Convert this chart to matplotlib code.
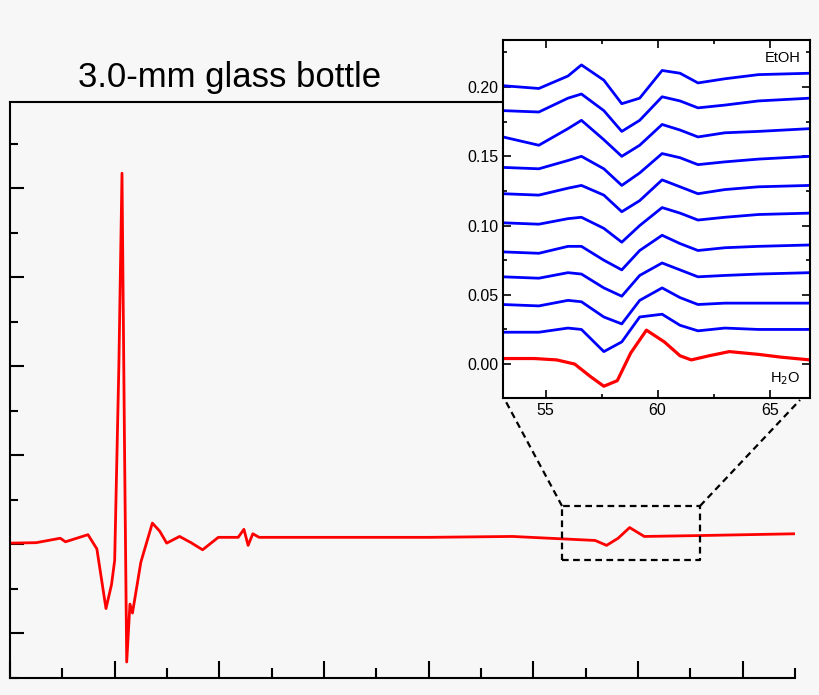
import matplotlib
matplotlib.use("Agg")
import matplotlib.pyplot as plt
from matplotlib.ticker import MultipleLocator
from matplotlib.lines import Line2D

plt.rcParams['font.family'] = ['Liberation Sans', 'DejaVu Sans']

# main trace
main_x = [0, 2.5, 4.8, 5.3, 7.45, 8.3, 9.17, 9.7, 10.0, 10.4, 10.7, 10.95, 11.15, 11.46, 11.7, 12.5, 13.6, 14.3, 14.97,
          16.2, 17.3, 18.4, 19.9, 21.8, 22.35, 22.75, 23.2, 23.8, 30, 40, 48, 55.9, 57.0, 58.1, 59.2, 60.6, 65.9, 75]
main_y = [0.015, 0.02, 0.07, 0.03, 0.11, -0.05, -0.72, -0.45, -0.18, 2.0, 4.17, 1.0, -1.32, -0.67, -0.77, -0.2, 0.24, 0.15, 0.015,
          0.09, 0.02, -0.06, 0.08, 0.08, 0.17, -0.01, 0.12, 0.08, 0.08, 0.08, 0.09, 0.045, -0.01, 0.07, 0.19, 0.09, 0.1, 0.12]

# inset traces
ins_x = [53.1, 54.7, 56.0, 56.6, 57.6, 58.4, 59.2, 60.2, 61.0, 61.8, 63.0, 64.5, 66.8]
blue_traces = [
    [0.023, 0.023, 0.026, 0.025, 0.009, 0.016, 0.034, 0.036, 0.028, 0.024, 0.026, 0.025, 0.025],
    [0.043, 0.042, 0.046, 0.045, 0.034, 0.029, 0.046, 0.055, 0.048, 0.043, 0.044, 0.044, 0.044],
    [0.063, 0.062, 0.066, 0.065, 0.055, 0.049, 0.064, 0.073, 0.068, 0.063, 0.064, 0.065, 0.066],
    [0.081, 0.080, 0.085, 0.085, 0.075, 0.068, 0.082, 0.093, 0.087, 0.082, 0.084, 0.085, 0.086],
    [0.102, 0.101, 0.105, 0.106, 0.098, 0.088, 0.100, 0.113, 0.109, 0.104, 0.106, 0.108, 0.109],
    [0.123, 0.122, 0.127, 0.129, 0.122, 0.110, 0.118, 0.133, 0.128, 0.123, 0.126, 0.128, 0.129],
    [0.142, 0.141, 0.147, 0.150, 0.141, 0.129, 0.138, 0.152, 0.149, 0.144, 0.146, 0.148, 0.150],
    [0.164, 0.158, 0.170, 0.176, 0.162, 0.150, 0.158, 0.173, 0.169, 0.164, 0.167, 0.168, 0.170],
    [0.183, 0.182, 0.192, 0.195, 0.183, 0.168, 0.176, 0.193, 0.190, 0.185, 0.187, 0.190, 0.192],
    [0.201, 0.199, 0.208, 0.216, 0.205, 0.188, 0.192, 0.212, 0.210, 0.203, 0.206, 0.209, 0.210],
]
red_x = [53.1, 54.5, 55.5, 56.3, 57.0, 57.6, 58.2, 58.8, 59.5, 60.3, 61.0, 61.5, 62.3, 63.2, 64.5, 65.5, 66.8]
red_y = [0.004, 0.004, 0.003, 0.0, -0.009, -0.016, -0.012, 0.008, 0.0245, 0.016, 0.006, 0.003, 0.006, 0.009, 0.007, 0.005, 0.003]
inset_ticks = [0.00, 0.05, 0.10, 0.15, 0.20]

bg = "#f7f7f7"
fig = plt.figure(figsize=(8.2, 6.95), dpi=100, facecolor=bg)

ax = fig.add_axes([10/820, 17/695, 785/820, 576/695], facecolor=bg)
ax.plot(main_x, main_y, color="#ff0000", lw=2)
ax.set_xlim(0, 75)
ax.set_ylim(-1.5, 4.97)
ax.spines["right"].set_visible(False)
for s in ax.spines.values():
    s.set_linewidth(1.5)
ax.xaxis.set_major_locator(MultipleLocator(10))
ax.xaxis.set_minor_locator(MultipleLocator(5))
ax.yaxis.set_major_locator(MultipleLocator(1))
ax.yaxis.set_minor_locator(MultipleLocator(0.5))
ax.tick_params(which="both", direction="in", labelbottom=False, labelleft=False, width=1.5)
ax.tick_params(axis="x", which="major", length=12)
ax.tick_params(axis="x", which="minor", length=7)
ax.tick_params(axis="y", which="major", length=10)
ax.tick_params(axis="y", which="minor", length=6)
fig.text(230/820, 1 - 77/695, "3.0-mm glass bottle", fontsize=25, ha="center", va="center")

# zoom box
bx0, bx1, by0, by1 = 52.7, 65.9, -0.18, 0.43
dash = (0, (3, 2))
ax.plot([bx0, bx1, bx1, bx0, bx0], [by0, by0, by1, by1, by0], ls=dash, color="black", lw=1.6)
fig.add_artist(Line2D([562/820, 505/820], [1-506/695, 1-400/695], ls=dash, color="black", lw=1.6))
fig.add_artist(Line2D([700/820, 800/820], [1-506/695, 1-400/695], ls=dash, color="black", lw=1.6))

ins = fig.add_axes([503/820, 297/695, 307/820, 358/695], facecolor="white")
for tr in blue_traces:
    ins.plot(ins_x, tr, color="#0000ff", lw=2)
ins.plot(red_x, red_y, color="#ff0000", lw=2.3)
ins.set_xlim(53.1, 66.8)
ins.set_ylim(-0.0245, 0.234)
ins.set_yticks(inset_ticks)
ins.set_yticklabels([f"{v:.2f}" for v in inset_ticks])
ins.xaxis.set_major_locator(MultipleLocator(5))
ins.xaxis.set_minor_locator(MultipleLocator(2.5))
ins.yaxis.set_minor_locator(MultipleLocator(0.025))
ins.tick_params(which="both", direction="in", top=True, right=True, labelsize=11.5, width=1.2)
ins.tick_params(which="major", length=6)
ins.tick_params(which="minor", length=3)
for s in ins.spines.values():
    s.set_linewidth(1.5)
ins.text(0.97, 0.97, "EtOH", transform=ins.transAxes, ha="right", va="top", fontsize=10.5)
ins.text(0.97, 0.03, "H$_2$O", transform=ins.transAxes, ha="right", va="bottom", fontsize=10.5)

fig.savefig("out.png", dpi=100, facecolor=bg)
